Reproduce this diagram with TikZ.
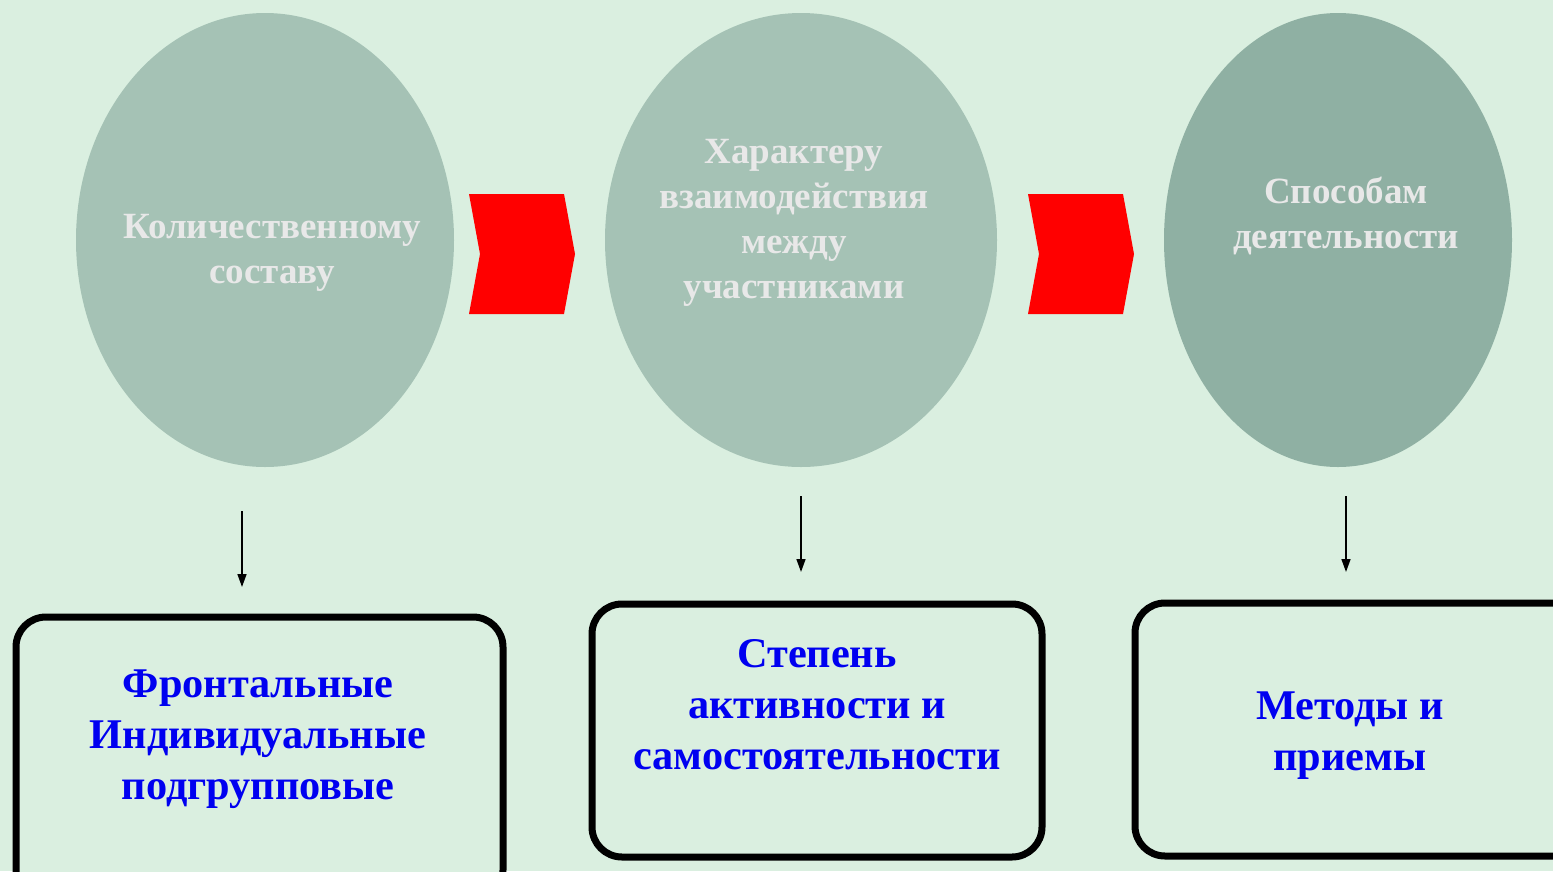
\documentclass[tikz,border=0pt]{standalone}
\usepackage{fontspec}
\setmainfont{Liberation Serif}
\usetikzlibrary{arrows.meta}
\definecolor{bg}{HTML}{DAEFE0}
\definecolor{ellA}{HTML}{A5C2B5}
\definecolor{ellB}{HTML}{8FB0A3}
\definecolor{etext}{HTML}{E8E8E8}
\definecolor{btext}{HTML}{0000F0}
\tikzset{
  x=1pt, y=-1pt,
  ell/.style={ellipse, fill=ellA, inner sep=0pt},
  etxt/.style={align=center, text=etext, font=\bfseries\fontsize{37}{45}\selectfont},
  btxt/.style={align=center, text=btext, font=\bfseries\fontsize{42.3}{51}\selectfont},
  boxline/.style={draw=black, line width=7pt, rounded corners=30pt, fill=bg},
  chev/.style={fill=red},
  darrow/.style={draw=black, line width=1.6pt, -{Triangle[length=13pt,width=9pt]}}
}
\usetikzlibrary{shapes.geometric}
\begin{document}
\begin{tikzpicture}
\useasboundingbox (0,0) rectangle (1553,871);
\clip (0,0) rectangle (1553,871);
\fill[bg] (0,0) rectangle (1553,871);
% ellipses
\fill[ellA] (265,240) ellipse [x radius=189, y radius=227];
\fill[ellA] (801,240) ellipse [x radius=196, y radius=227];
\fill[ellB] (1338,240) ellipse [x radius=174, y radius=227];
\node[etxt] (e1) at (272,253) {Количественному\\составу};
\node[etxt] (e2) at (794,222.5) {Характеру\\взаимодействия\\между\\участниками};
\node[etxt] (e3) at (1346,216) {Способам\\деятельности};
% chevrons
\fill[chev] (469,194) -- (564,194) -- (575,254) -- (564,314) -- (469,314) -- (480,254) -- cycle;
\fill[chev] (1028,194) -- (1123,194) -- (1134,254) -- (1123,314) -- (1028,314) -- (1039,254) -- cycle;
% arrows
\coordinate (a1s) at (242,511); \coordinate (a1e) at (242,587);
\coordinate (a2s) at (801,496); \coordinate (a2e) at (801,572);
\coordinate (a3s) at (1346,496); \coordinate (a3e) at (1346,572);
\draw[darrow] (a1s) -- (a1e);
\draw[darrow] (a2s) -- (a2e);
\draw[darrow] (a3s) -- (a3e);
% boxes
\draw[boxline] (16,617) rectangle (503,900);
\draw[boxline] (592,604) rectangle (1042,857);
\draw[boxline] (1135,603) rectangle (1590,856);
\node[btxt] (b1) at (258,739) {Фронтальные\\Индивидуальные\\подгрупповые};
\node[btxt] (b2) at (817,705) {Степень\\активности и\\самостоятельности};
\node[btxt] (b3) at (1350,736) {Методы и\\приемы};
\end{tikzpicture}
\end{document}
